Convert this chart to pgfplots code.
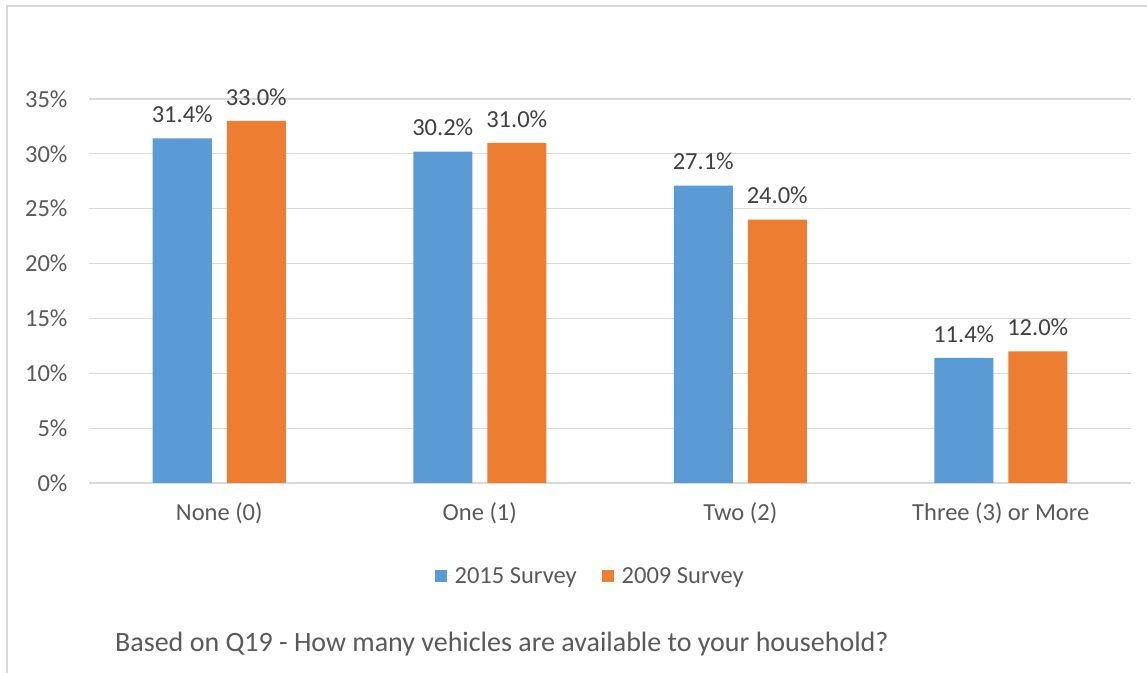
\documentclass[border=0pt]{standalone}
\usepackage{pgfplots}
\pgfplotsset{compat=1.18}
\usepackage{fontspec}
\setmainfont{Carlito}
\definecolor{blueS}{HTML}{5B9BD5}
\definecolor{orangeS}{HTML}{ED7D31}
\definecolor{txt}{HTML}{595959}
\definecolor{lbl}{HTML}{404040}
\definecolor{gridc}{HTML}{D9D9D9}
\begin{document}
\begin{tikzpicture}
\path[use as bounding box] (0,0) rectangle (1147bp,673bp);
\draw[gridc, line width=1.2bp] (7bp,0) -- (7bp,667bp) -- (1147bp,667bp);
\begin{axis}[
    at={(89bp,190bp)}, anchor=south west,
    scale only axis,
    width=1042bp, height=384bp,
    ybar=15bp, bar width=59bp,
    xmin=-0.5, xmax=3.5,
    ymin=0, ymax=35,
    xtick={0,1,2,3},
    xticklabels={None (0),One (1),Two (2),Three (3) or More},
    ytick={0,5,...,35},
    yticklabel={\pgfmathprintnumber{\tick}\%},
    /pgf/number format/assume math mode=true,
    major tick length=0pt,
    tick style={draw=none},
    axis line style={draw=none},
    ymajorgrids, xmajorgrids=false,
    y grid style={gridc, line width=1.2bp},
    tick label style={font=\fontsize{24.5bp}{26bp}\selectfont, text=txt},
    yticklabel style={xshift=-18bp},
    xticklabel style={yshift=-16bp},
    nodes near coords={\pgfmathprintnumber[fixed, fixed zerofill, precision=1]{\pgfplotspointmeta}\%},
    nodes near coords style={font=\fontsize{24.5bp}{26bp}\selectfont, text=lbl, anchor=south, yshift=12bp},
    legend style={at={(0.481,-0.242)}, anchor=center, draw=none, fill=none,
        legend columns=2, font=\fontsize{24.5bp}{26bp}\selectfont, text=txt,
        /tikz/every even column/.append style={column sep=23bp}},
    legend image code/.code={\fill[#1] (-6bp,-6bp) rectangle (6bp,6bp);
        \path (-6bp,0) -- (12bp,0);},
]
\addplot[fill=blueS, draw=none] coordinates {(0,31.4) (1,30.2) (2,27.1) (3,11.4)};
\addlegendentry{2015 Survey}
\addplot[fill=orangeS, draw=none] coordinates {(0,33.0) (1,31.0) (2,24.0) (3,12.0)};
\addlegendentry{2009 Survey}
\end{axis}
\node[anchor=base west, text=txt, font=\fontsize{28bp}{30bp}\selectfont, inner sep=0pt] at (115bp,22bp)
    {Based on Q19 - How many vehicles are available to your household?};
\end{tikzpicture}
\end{document}
